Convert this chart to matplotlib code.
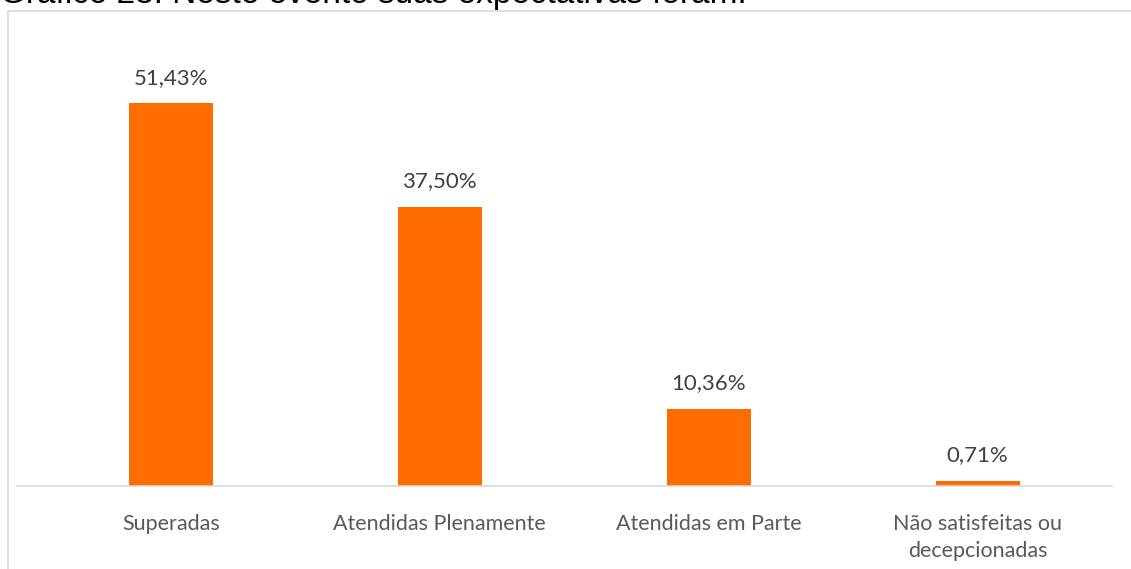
import matplotlib.pyplot as plt
from matplotlib.patches import Rectangle

categories = ["Superadas", "Atendidas Plenamente", "Atendidas em Parte", "Não satisfeitas ou\ndecepcionadas"]
values = [51.43, 37.50, 10.36, 0.71]
labels = ["51,43%", "37,50%", "10,36%", "0,71%"]

W, H = 1131, 569
fig = plt.figure(figsize=(W / 100, H / 100), dpi=100)

# outer border of the chart area (clipped on right/bottom)
fig.patches.append(Rectangle((8 / W, -0.1), 1.2, (H - 11) / H + 0.1, transform=fig.transFigure,
                             fill=False, edgecolor="#d9d9d9", linewidth=1.2))

# title, cut off at the top as in the source
fig.text(0 / W, 1 - 3.5 / H, "Gráfico 23: Neste evento suas expectativas foram:",
         fontsize=24, family="Liberation Sans", va="baseline", ha="left", color="black")

left, right = 17, 1112
top, bottom = 40, 486
ax = fig.add_axes([left / W, 1 - bottom / H, (right - left) / W, (bottom - top) / H])

step = 269
x0 = -0.5 - (36.5 - left) / step
ax.set_xlim(x0, 3.5)
ax.set_ylim(0, (bottom - top) / 7.447)

xs = range(len(categories))
ax.bar(xs, values, width=84 / step, color="#FF6D00")
for x, v, lab in zip(xs, values, labels):
    ax.text(x, v + 2.6, lab, ha="center", va="baseline", fontsize=16,
            family="Lato", color="#404040")

for s in ["top", "right", "left"]:
    ax.spines[s].set_visible(False)
ax.spines["bottom"].set_color("#d9d9d9")
ax.spines["bottom"].set_linewidth(1.2)
ax.set_yticks([])
ax.set_xticks(list(xs))
ax.set_xticklabels(categories, fontsize=15.5, family="Lato", color="#595959", linespacing=1.45)
ax.tick_params(axis="x", length=0, pad=20)

fig.savefig("out.png", dpi=100)
